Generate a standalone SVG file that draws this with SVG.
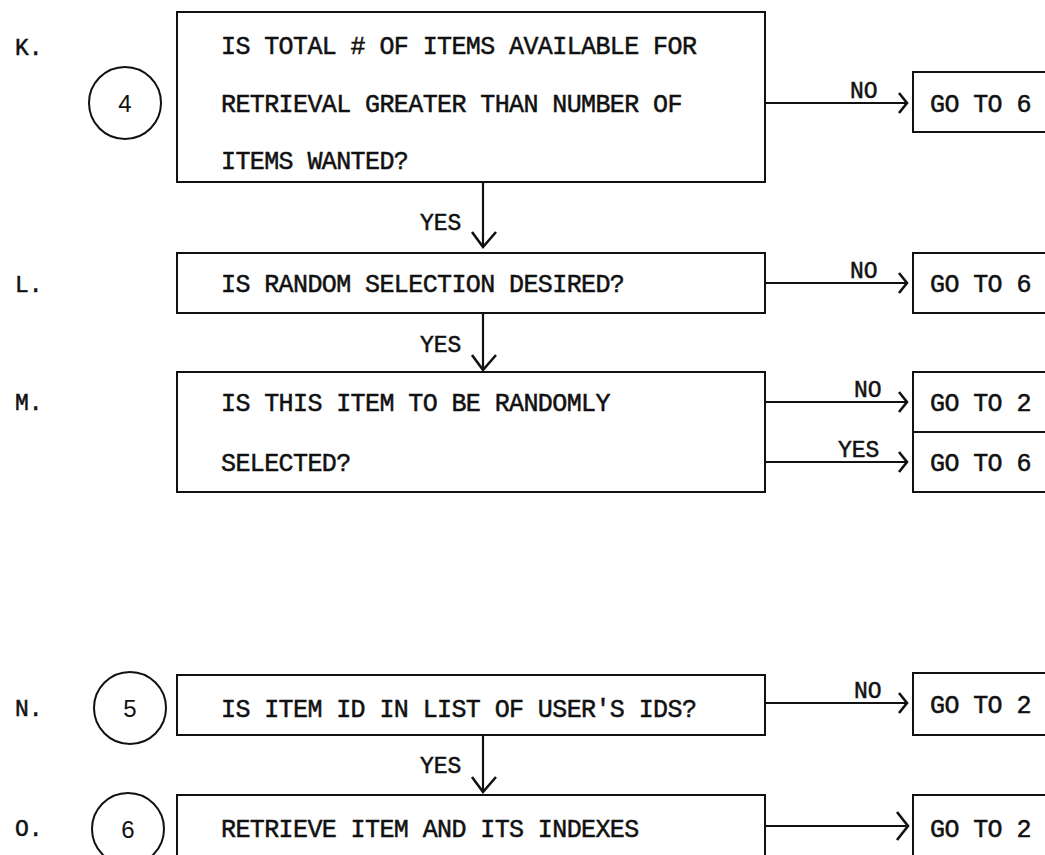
<svg xmlns="http://www.w3.org/2000/svg" width="1045" height="855" viewBox="0 0 1045 855">
<style>
.box{fill:#fff;stroke:#111;stroke-width:2}
.t{font-family:"Liberation Mono","Courier New",monospace;font-size:25px;letter-spacing:-0.6px;fill:#111;stroke:#111;stroke-width:0.5}
.lbl{font-family:"Liberation Mono","Courier New",monospace;font-size:23px;fill:#111;stroke:#111;stroke-width:0.5}
.num{font-family:"Liberation Sans",Arial,sans-serif;font-size:24px;fill:#111;text-anchor:middle}
.c{fill:#fff;stroke:#111;stroke-width:2}
.ln{fill:none;stroke:#111;stroke-width:2.2}
.hd{fill:none;stroke:#111;stroke-width:2.6;stroke-linejoin:miter}
</style>
<rect width="1045" height="855" fill="#fff"/>

<g id="rowlabels">
<text class="lbl" x="15" y="55">K.</text>
<text class="lbl" x="15" y="292">L.</text>
<text class="lbl" x="15" y="410">M.</text>
<text class="lbl" x="15" y="716">N.</text>
<text class="lbl" x="15" y="836">O.</text>
</g>

<g id="c4"><circle class="c" cx="125" cy="103" r="36"/><text class="num" x="125" y="112">4</text></g>
<g id="c5"><circle class="c" cx="130" cy="708" r="36"/><text class="num" x="130" y="717">5</text></g>
<g id="c6"><circle class="c" cx="128" cy="829" r="36"/><text class="num" x="128" y="838">6</text></g>

<g id="K">
<rect class="box" x="177" y="12" width="588" height="170"/>
<text class="t" x="221" y="54">IS TOTAL # OF ITEMS AVAILABLE FOR</text>
<text class="t" x="221" y="112">RETRIEVAL GREATER THAN NUMBER OF</text>
<text class="t" x="221" y="169">ITEMS WANTED?</text>
</g>
<g id="L">
<rect class="box" x="177" y="253" width="588" height="60"/>
<text class="t" x="221" y="292">IS RANDOM SELECTION DESIRED?</text>
</g>
<g id="M">
<rect class="box" x="177" y="372" width="588" height="120"/>
<text class="t" x="221" y="411">IS THIS ITEM TO BE RANDOMLY</text>
<text class="t" x="221" y="471">SELECTED?</text>
</g>
<g id="N">
<rect class="box" x="177" y="675" width="588" height="60"/>
<text class="t" x="221" y="717">IS ITEM ID IN LIST OF USER'S IDS?</text>
</g>
<g id="O">
<rect class="box" x="177" y="795" width="588" height="62"/>
<text class="t" x="221" y="837">RETRIEVE ITEM AND ITS INDEXES</text>
</g>

<g id="gK"><rect class="box" x="913" y="72" width="140" height="60"/><text class="t" x="930" y="112">GO TO 6</text></g>
<g id="gL"><rect class="box" x="913" y="253" width="140" height="60"/><text class="t" x="930" y="292">GO TO 6</text></g>
<g id="gM1"><rect class="box" x="913" y="372" width="140" height="60"/><text class="t" x="930" y="411">GO TO 2</text></g>
<g id="gM2"><rect class="box" x="913" y="432" width="140" height="60"/><text class="t" x="930" y="471">GO TO 6</text></g>
<g id="gN"><rect class="box" x="913" y="673" width="140" height="62"/><text class="t" x="930" y="713">GO TO 2</text></g>
<g id="gO"><rect class="box" x="913" y="795" width="140" height="62"/><text class="t" x="930" y="837">GO TO 2</text></g>

<g id="connectors">
<path class="ln" d="M765 103H906"/><path class="hd" d="M899 93L907 103L899 113"/>
<path class="ln" d="M765 283H906"/><path class="hd" d="M899 273L907 283L899 293"/>
<path class="ln" d="M765 402H906"/><path class="hd" d="M899 392L907 402L899 412"/>
<path class="ln" d="M765 462H906"/><path class="hd" d="M899 452L907 462L899 472"/>
<path class="ln" d="M765 703H906"/><path class="hd" d="M899 693L907 703L899 713"/>
<path class="ln" d="M765 826H906"/><path class="hd" d="M897 812L908 826L897 840"/>
<path class="ln" d="M483 182V247"/><path class="hd" d="M472 232L483 247L496 232"/>
<path class="ln" d="M483 313V370"/><path class="hd" d="M472 355L483 370L496 355"/>
<path class="ln" d="M483 735V792"/><path class="hd" d="M472 777L483 792L496 777"/>
<text class="lbl" x="850" y="98">NO</text>
<text class="lbl" x="850" y="278">NO</text>
<text class="lbl" x="854" y="397">NO</text>
<text class="lbl" x="838" y="457">YES</text>
<text class="lbl" x="854" y="698">NO</text>
<text class="lbl" x="420" y="230">YES</text>
<text class="lbl" x="420" y="352">YES</text>
<text class="lbl" x="420" y="773">YES</text>
</g>
</svg>
